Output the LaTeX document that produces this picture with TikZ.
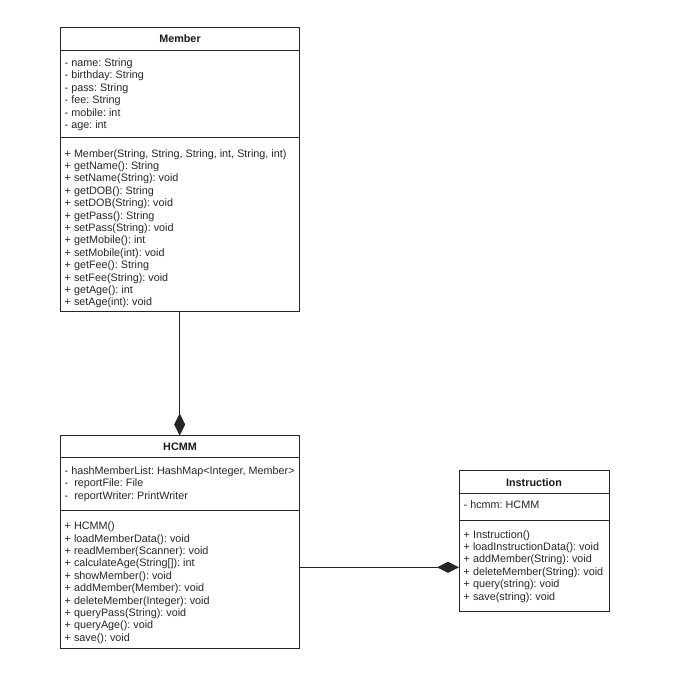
\documentclass[tikz,border=0pt]{standalone}
\usepackage{fontspec}
\setmainfont{Liberation Sans}
\usetikzlibrary{arrows.meta}
\frenchspacing
\begin{document}
\begin{tikzpicture}[x=1pt,y=-1pt,
  box/.style={draw=black!85, line width=0.9pt, inner sep=0pt, outer sep=0pt, anchor=north west},
  txt/.style={inner sep=0pt, anchor=north west, align=left, font=\fontsize{10.8}{12.4}\selectfont, text=black!85},
  hdr/.style={inner sep=0pt, anchor=base, font=\fontsize{10.8}{12.4}\selectfont\bfseries, text=black!90},
  sepline/.style={draw=black!85, line width=0.9pt},
  comp/.style={-{Diamond[length=22pt,width=11pt]}, line width=0.9pt, draw=black!85, fill=black!85}]
\useasboundingbox (0,0) rectangle (672,700);

% Member
\node[box, minimum width=239.3pt, minimum height=284.2pt] (member) at (60,27.5) {};
\draw[sepline] (member.west |- 0,50.7) -- (member.east |- 0,50.7);
\draw[sepline] (member.west |- 0,137) -- (member.east |- 0,137);
\node[hdr] (memberT) at (180,43) {Member};
\node[txt] (memberA) at (64.5,57.6) {\strut- name: String\\- birthday: String\\- pass: String\\- fee: String\\- mobile: int\\- age: int};
\node[txt] (memberM) at (64.5,148.3) {\strut+ Member(String, String, String, int, String, int)\\+ getName(): String\\+ setName(String): void\\+ getDOB(): String\\+ setDOB(String): void\\+ getPass(): String\\+ setPass(String): void\\+ getMobile(): int\\+ setMobile(int): void\\+ getFee(): String\\+ setFee(String): void\\+ getAge(): int\\+ setAge(int): void};

% HCMM
\node[box, minimum width=239.3pt, minimum height=212.8pt] (hcmm) at (60,435.5) {};
\draw[sepline] (hcmm.west |- 0,457.3) -- (hcmm.east |- 0,457.3);
\draw[sepline] (hcmm.west |- 0,510) -- (hcmm.east |- 0,510);
\node[hdr] (hcmmT) at (180,450.5) {HCMM};
\node[txt] (hcmmA) at (64.5,465.6) {\strut- hashMemberList: HashMap<Integer, Member>\\- \ reportFile: File\\- \ reportWriter: PrintWriter};
\node[txt] (hcmmM) at (64.5,520.9) {\strut+ HCMM()\\+ loadMemberData(): void\\+ readMember(Scanner): void\\+ calculateAge(String[]): int\\+ showMember(): void\\+ addMember(Member): void\\+ deleteMember(Integer): void\\+ queryPass(String): void\\+ queryAge(): void\\+ save(): void};

% Instruction
\node[box, minimum width=150pt, minimum height=141pt] (instr) at (459,470.7) {};
\draw[sepline] (instr.west |- 0,493.3) -- (instr.east |- 0,493.3);
\draw[sepline] (instr.west |- 0,520) -- (instr.east |- 0,520);
\node[hdr] (instrT) at (534,486) {Instruction};
\node[txt] (instrA) at (463.5,499.8) {\strut- hcmm: HCMM};
\node[txt] (instrM) at (463.5,529.3) {\strut+ Instruction()\\+ loadInstructionData(): void\\+ addMember(String): void\\+ deleteMember(String): void\\+ query(string): void\\+ save(string): void};

% connectors
\draw[comp] (member.south) -- (hcmm.north);
\coordinate (j) at (459,567.3);
\draw[comp] (hcmm.east |- j) -- (instr.west |- j);
\end{tikzpicture}
\end{document}
